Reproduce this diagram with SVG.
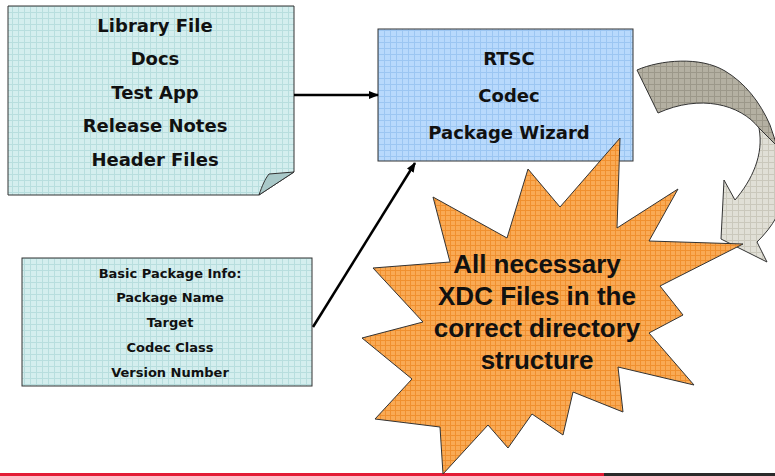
<svg xmlns="http://www.w3.org/2000/svg" width="775" height="476" viewBox="0 0 775 476">
<defs>
<pattern id="pCyan" width="6" height="6" patternUnits="userSpaceOnUse"><rect width="6" height="6" fill="#d4eeee"/><path d="M0 0.5H6M0.5 0V6" stroke="#b8dede" stroke-width="1"/></pattern>
<pattern id="pBlue" width="6" height="6" patternUnits="userSpaceOnUse"><rect width="6" height="6" fill="#b8d9fc"/><path d="M0 0.5H6M0.5 0V6" stroke="#9cc6f2" stroke-width="1"/></pattern>
<pattern id="pOrange" width="5" height="5" patternUnits="userSpaceOnUse"><rect width="5" height="5" fill="#f9aa55"/><path d="M0 0.5H5M0.5 0V5" stroke="#f0902f" stroke-width="1"/></pattern>
<pattern id="pGrayD" width="6" height="6" patternUnits="userSpaceOnUse"><rect width="6" height="6" fill="#b4b0a2"/><path d="M0 0.5H6M0.5 0V6" stroke="#9c988a" stroke-width="1"/></pattern>
<pattern id="pGrayL" width="6" height="6" patternUnits="userSpaceOnUse"><rect width="6" height="6" fill="#e0dfd6"/><path d="M0 0.5H6M0.5 0V6" stroke="#cac8bc" stroke-width="1"/></pattern>
<marker id="ah" markerWidth="10" markerHeight="8" refX="9" refY="4" orient="auto" markerUnits="userSpaceOnUse"><path d="M0,0 L10,4 L0,8 Z" fill="#000"/></marker>
<style>
.box{stroke:#333;stroke-width:1}
.t{font-family:"DejaVu Sans",Verdana,sans-serif;font-weight:bold;fill:#111;text-anchor:middle}
.t18{font-size:18px}
.t13{font-size:13px}
.ts{font-family:"Liberation Sans",Arial,sans-serif;font-weight:bold;font-size:26px;fill:#111;text-anchor:middle}
.conn{stroke:#000;stroke-width:2.5;fill:none}
</style>
</defs>
<rect x="0" y="473" width="604" height="3" fill="#e31b35"/>
<rect x="604" y="473" width="171" height="3" fill="#2a2a2a"/>
<g id="node-files">
<path class="box" d="M8,6 H294 V172 L259,195 H8 Z" fill="url(#pCyan)"/>
<path d="M259,195 C262,186 265,179 269,174 L294,172 Z" fill="#a9c9c9" stroke="#333" stroke-width="1"/>
<text class="t t18" x="155" y="32">Library File</text>
<text class="t t18" x="155" y="65">Docs</text>
<text class="t t18" x="155" y="98.5">Test App</text>
<text class="t t18" x="155" y="132">Release Notes</text>
<text class="t t18" x="155" y="165.5">Header Files</text>
</g>
<g id="node-wizard">
<rect class="box" x="378" y="29" width="255" height="132" fill="url(#pBlue)"/>
<text class="t t18" x="509" y="65">RTSC</text>
<text class="t t18" x="509" y="102">Codec</text>
<text class="t t18" x="509" y="139">Package Wizard</text>
</g>
<g id="node-info">
<rect class="box" x="22" y="258" width="290" height="128" fill="url(#pCyan)"/>
<text class="t t13" x="170" y="278">Basic Package Info:</text>
<text class="t t13" x="170" y="302">Package Name</text>
<text class="t t13" x="170" y="327">Target</text>
<text class="t t13" x="170" y="352">Codec Class</text>
<text class="t t13" x="170" y="377">Version Number</text>
</g>
<g id="connectors">
<line class="conn" x1="294" y1="95" x2="378" y2="95" marker-end="url(#ah)"/>
<line class="conn" x1="313" y1="327" x2="415" y2="163" marker-end="url(#ah)"/>
</g>
<g id="node-cycle-arrow">
<path d="M637,70 C660,60 700,56 725,71 C745,83 760,102 770,125 L777,146 L759,128 C740,104 700,94 658,113 Z" fill="url(#pGrayD)" stroke="#333" stroke-width="1"/>
<path d="M759,128 L777,146 C792,175 790,210 757,242 L767,262 L721,239 L724,180 L735,200 C752,180 764,155 759,128 Z" fill="url(#pGrayL)" stroke="#333" stroke-width="1"/>
</g>
<g id="node-result">
<polygon points="620,138 617,228 678,189 649,241 743,244 660,286 683,315 649,333 694,385 618,367 623,412 573,392 563,435 532,414 508,448 488,425 443,474 440,427 375,419 412,379 362,338 423,322 373,268 450,262 433,197 507,238 528,169 560,207" fill="url(#pOrange)" stroke="#333" stroke-width="1"/>
<text class="ts" x="537" y="273">All necessary</text>
<text class="ts" x="537" y="305">XDC Files in the</text>
<text class="ts" x="537" y="337">correct directory</text>
<text class="ts" x="537" y="369">structure</text>
</g>
</svg>
